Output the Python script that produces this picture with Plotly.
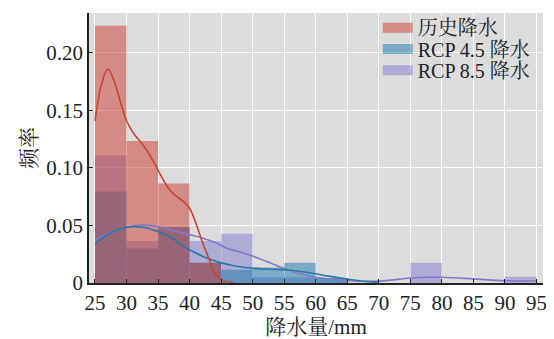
import plotly.graph_objects as go

# ---- data ----
bin_left = [25, 30, 35, 40, 45, 50, 55, 60, 65, 70, 75, 80, 85, 90]
bin_width = 5
hist_vals = [0.2236, 0.1234, 0.0864, 0.0177, 0, 0, 0, 0, 0, 0, 0, 0, 0, 0]
rcp45_vals = [0.0795, 0.030, 0.0485, 0.0177, 0.0115, 0.0135, 0.0175, 0.0044, 0, 0, 0, 0, 0, 0]
rcp85_vals = [0.111, 0.0365, 0.0485, 0.0365, 0.0428, 0.005, 0.005, 0.0044, 0, 0, 0.0175, 0, 0, 0.0055]

hist_kde_x = [25, 26, 27, 28, 29, 30, 31, 32, 33, 34, 35, 36, 37, 38, 39, 40, 41, 42, 43, 44, 45, 46, 47]
hist_kde_y = [0.141, 0.172, 0.186, 0.176, 0.158, 0.141, 0.131, 0.124, 0.117, 0.108, 0.098, 0.088, 0.080,
              0.075, 0.071, 0.065, 0.052, 0.036, 0.022, 0.009, 0.003, 0.001, 0.0]
rcp45_kde_x = [25, 27, 29, 31, 33, 35, 37, 39, 41, 43, 45, 47, 50, 53, 55, 57, 60, 62, 65, 67, 70]
rcp45_kde_y = [0.034, 0.042, 0.047, 0.049, 0.048, 0.0447, 0.040, 0.032, 0.026, 0.021, 0.0175, 0.015,
               0.0128, 0.012, 0.0115, 0.0105, 0.008, 0.006, 0.0035, 0.002, 0.0003]
rcp85_kde_x = [25, 28, 32, 35, 37, 40, 42, 44, 46, 48, 50, 53, 55, 57.5, 60, 65, 70, 75, 78, 80, 85, 90, 95]
rcp85_kde_y = [0.037, 0.045, 0.0504, 0.049, 0.046, 0.042, 0.039, 0.0353, 0.030, 0.027, 0.0234, 0.017,
               0.0126, 0.008, 0.005, 0.002, 0.0016, 0.0044, 0.005, 0.005, 0.0036, 0.002, 0.002]

names = ["历史降水", "RCP 4.5 降水", "RCP 8.5 降水"]
x_ticks = [25, 30, 35, 40, 45, 50, 55, 60, 65, 70, 75, 80, 85, 90, 95]
y_ticks = [0, 0.05, 0.10, 0.15, 0.20]
y_ticktext = ["0", "0.05", "0.10", "0.15", "0.20"]

# ---- styles ----
RED = (204, 56, 46)
BLUE = (24, 120, 172)
PURPLE = (128, 124, 208)
RED_LINE = "#c8452f"
BLUE_LINE = "#2a78a8"
PURPLE_LINE = "#8479c6"
ALPHA = 0.5
FONT = "Liberation Serif, Noto Serif CJK SC, Noto Sans CJK SC, serif"
FS = 21
LFS = 20


def rgba(c, a):
    return f"rgba({c[0]},{c[1]},{c[2]},{a})"


centers = [b + bin_width / 2 for b in bin_left]

fig = go.Figure()
# bars (purple bottom, blue, red top)
for vals, col, grp in [(rcp85_vals, PURPLE, "c"), (rcp45_vals, BLUE, "b"), (hist_vals, RED, "a")]:
    fig.add_trace(go.Bar(x=centers, y=vals, width=bin_width, marker=dict(color=rgba(col, ALPHA), line=dict(width=0)),
                         showlegend=False, legendgroup=grp, hoverinfo="skip"))
# kde lines
for xs, ys, col, grp in [(rcp85_kde_x, rcp85_kde_y, PURPLE_LINE, "c"), (rcp45_kde_x, rcp45_kde_y, BLUE_LINE, "b"),
                         (hist_kde_x, hist_kde_y, RED_LINE, "a")]:
    fig.add_trace(go.Scatter(x=xs, y=ys, mode="lines", line=dict(color=col, width=1.6, shape="spline", smoothing=1.0),
                             showlegend=False, legendgroup=grp))
# legend proxies, one legend box per row for exact spacing
legend_names = ["legend", "legend2", "legend3"]
for nm, col, grp, lg in [(names[0], RED, "a", legend_names[0]), (names[1], BLUE, "b", legend_names[1]),
                         (names[2], PURPLE, "c", legend_names[2])]:
    fig.add_trace(go.Scatter(x=[None], y=[None], mode="lines", name=nm, legendgroup=grp, legend=lg,
                             line=dict(color=rgba(col, ALPHA), width=10)))

leg_y = [1.018, 0.939, 0.860]
leg_common = dict(x=0.636, xanchor="left", yanchor="top", bgcolor="rgba(0,0,0,0)",
                  font=dict(family=FONT, size=LFS, color="#222"), itemwidth=30)

fig.update_layout(
    width=546, height=331,
    margin=dict(l=81, r=11, t=0, b=56),
    paper_bgcolor="white",
    plot_bgcolor="#dcdcdc",
    barmode="overlay",
    font=dict(family=FONT, size=FS, color="#222"),
    legend=dict(y=leg_y[0], **leg_common),
    legend2=dict(y=leg_y[1], **leg_common),
    legend3=dict(y=leg_y[2], **leg_common),
)
fig.update_xaxes(range=[24.05, 96.03], tickvals=x_ticks, ticks="inside", ticklen=4, tickwidth=1.2,
                 tickcolor="#222", showline=True, linecolor="#222", linewidth=1.5,
                 showgrid=True, gridcolor="white", gridwidth=1, zeroline=False,
                 tickfont=dict(size=FS), title=dict(text="降水量/mm", font=dict(size=FS), standoff=6),
                 automargin=False)
fig.update_yaxes(range=[0, 0.2347], tickvals=y_ticks, ticktext=y_ticktext, ticks="inside", ticklen=4,
                 tickwidth=1.2, tickcolor="#222", showline=True, linecolor="#222", linewidth=1.5,
                 showgrid=True, gridcolor="white", gridwidth=1, zeroline=False,
                 tickfont=dict(size=FS), title=dict(text="频率", font=dict(size=FS), standoff=4),
                 automargin=False)

fig.write_html("out.html")
